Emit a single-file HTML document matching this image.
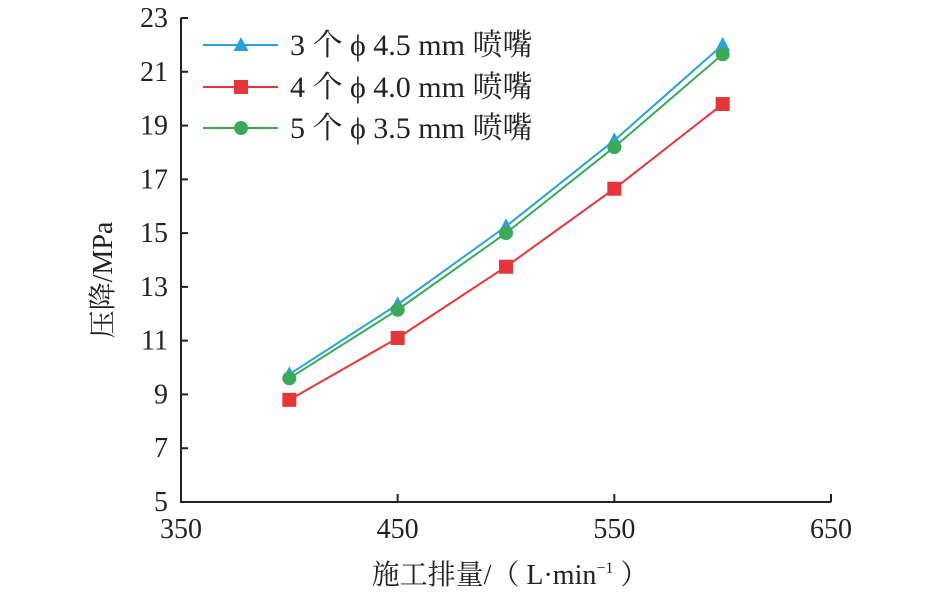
<!DOCTYPE html>
<html><head><meta charset="utf-8"><style>
body{margin:0;background:#fff}
svg text{font-family:"Liberation Serif","Noto Serif CJK SC",serif;fill:#222}
</style></head><body>
<svg width="945" height="593" xmlns="http://www.w3.org/2000/svg">
<g id="axes"></g>
<g id="series"></g>
<g id="legend"></g>
<text x="112" y="280" font-size="28" text-anchor="middle" transform="rotate(-90 112 280)">压降/MPa</text>
<text x="510" y="584" font-size="28" text-anchor="middle">施工排量/（ L·min<tspan font-size="16" dy="-11">−1</tspan><tspan dy="11"> ）</tspan></text>
</svg>
<script>
const categories=[400,450,500,550,600];
const s1=[9.75,12.35,15.25,18.45,22.0];
const s2=[8.8,11.1,13.75,16.65,19.8];
const s3=[9.6,12.15,15.0,18.2,21.65];
const xTicks=[350,450,550,650];
const yTicks=[5,7,9,11,13,15,17,19,21,23];
const names=["3 个 ϕ 4.5 mm 喷嘴","4 个 ϕ 4.0 mm 喷嘴","5 个 ϕ 3.5 mm 喷嘴"];
const NS="http://www.w3.org/2000/svg";
const X=v=>181+(v-350)*650/300;
const Y=v=>502-(v-5)*484/18;
function mk(t,a,p){const e=document.createElementNS(NS,t);for(const k in a)e.setAttribute(k,a[k]);p.appendChild(e);return e;}
const ax=document.getElementById('axes');
let e=mk('path',{d:`M${X(350)},${Y(23)}V${Y(5)}H${X(650)}`,stroke:'#222','stroke-width':2,fill:'none'},ax);


yTicks.forEach(v=>{mk('line',{x1:X(350),x2:X(350)+7,y1:Y(v),y2:Y(v),stroke:'#222','stroke-width':2},ax);
 const t=mk('text',{x:168,y:Y(v)+9,'font-size':28,'text-anchor':'end'},ax);t.textContent=v;
 
 });
xTicks.forEach(v=>{mk('line',{x1:X(v),x2:X(v),y1:Y(5),y2:Y(5)-8,stroke:'#222','stroke-width':2},ax);
 const t=mk('text',{x:X(v),y:538,'font-size':28,'text-anchor':'middle'},ax);t.textContent=v;
 
 });
const colors=['#29a3dc','#e8353a','#3aaa5a'];
const shapes=['tri','sq','circ'];
function marker(shape,x,y,c,p){
 if(shape==='tri')return mk('path',{d:`M${x},${y-8}L${x+7.5},${y+6}L${x-7.5},${y+6}Z`,fill:c},p);
 if(shape==='sq')return mk('rect',{x:x-7,y:y-7,width:14,height:14,fill:c},p);
 return mk('circle',{cx:x,cy:y,r:7,fill:c},p);}
const sg=document.getElementById('series');
[s1,s2,s3].forEach((s,i)=>{
 const l=mk('polyline',{points:categories.map((c,j)=>X(c)+','+Y(s[j])).join(' '),stroke:colors[i],'stroke-width':2,fill:'none'},sg);
 
 
 categories.forEach((c,j)=>{const m=marker(shapes[i],X(c),Y(s[j]),colors[i],sg);
  
  });
});
const lg=document.getElementById('legend');
[45,87,128].forEach((y,i)=>{
 mk('line',{x1:203,x2:278,y1:y,y2:y,stroke:colors[i],'stroke-width':2},lg);
 marker(shapes[i],241,y,colors[i],lg);
 const t=mk('text',{x:290,y:y+10,'font-size':30},lg);t.textContent=names[i];
 
 
});
</script>
</body></html>
